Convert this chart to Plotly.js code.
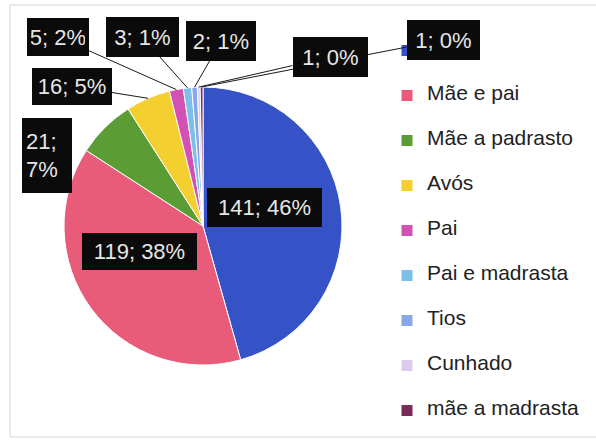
<!DOCTYPE html>
<html><head><meta charset="utf-8">
<script src="https://cdn.plot.ly/plotly-3.0.1.min.js"></script>
<style>html,body{margin:0;padding:0;background:#fff}</style>
</head><body>
<div id="chart" style="width:596px;height:442px"></div>
<script>
// ---- data ----
const categories = ["Mãe", "Mãe e pai", "Mãe a padrasto", "Avós", "Pai", "Pai e madrasta", "Tios", "Cunhado", "mãe a madrasta"];
const values = [141, 119, 21, 16, 5, 3, 2, 1, 1];
const percentLabels = [46, 38, 7, 5, 2, 1, 1, 0, 0];
const colors = ["#3553c6", "#e85c7a", "#5c9c34", "#f3cf30", "#d451b4", "#7cc0ea", "#86a8e8", "#dccbee", "#7a2a58"];

// ---- layout constants ----
const W = 596, H = 442;
const CX = 203, CY = 226, R = 139;
const FONT = "Liberation Sans, Arial, sans-serif";

// label boxes: pixel centre, outer size, leader line, wrapping
const labelLayout = [
  {x: 264, y: 207, w: 115, h: 39, arrow: false},
  {x: 139, y: 251, w: 115, h: 37, arrow: false},
  {x: 47,  y: 155, w: 50,  h: 75, arrow: false, wrap: true},
  {x: 72,  y: 86,  w: 80,  h: 37, arrow: true},
  {x: 58,  y: 37,  w: 62,  h: 38, arrow: true},
  {x: 142, y: 37,  w: 73,  h: 40, arrow: true},
  {x: 221, y: 41,  w: 70,  h: 40, arrow: true},
  {x: 330, y: 57,  w: 75,  h: 40, arrow: true},
  {x: 443, y: 40,  w: 73,  h: 40, arrow: true}
];
const drawOrder = [8, 7, 6, 5, 4, 3, 2, 1, 0];

const total = values.reduce((a, b) => a + b, 0);
let cum = 0;
const midAngles = values.map(v => { const m = (cum + v / 2) / total * 2 * Math.PI; cum += v; return m; });

const PAD = 4;
const annotations = drawOrder.map(i => {
  const L = labelLayout[i];
  let text = values[i] + "; " + percentLabels[i] + "%";
  if (L.wrap) text = values[i] + ";<br>" + percentLabels[i] + "%";
  const base = {
    xref: "paper", yref: "paper", text: text,
    bgcolor: "#0b0b0b", borderpad: PAD, borderwidth: 0,
    width: L.w - 2 * PAD, height: L.h - 2 * PAD,
    font: {family: FONT, size: 22, color: "#e6e6e6"},
    align: L.wrap ? "left" : "center", valign: "middle"
  };
  if (L.arrow) {
    const tx = CX + R * Math.sin(midAngles[i]);
    const ty = CY - R * Math.cos(midAngles[i]);
    return Object.assign(base, {
      x: tx / W, y: 1 - ty / H, showarrow: true, arrowhead: 0, arrowwidth: 1,
      arrowcolor: "#1a1a1a", standoff: 0, ax: L.x - tx, ay: L.y - ty
    });
  }
  return Object.assign(base, {x: L.x / W, y: 1 - L.y / H, showarrow: false, xanchor: "center", yanchor: "middle"});
});

const trace = {
  type: "pie",
  labels: categories.map(c => '<br><span style="font-size:21px">' + c + '</span><br>'),
  values: values,
  sort: false,
  direction: "clockwise",
  rotation: 0,
  textinfo: "none",
  hoverinfo: "none",
  marker: {colors: colors, line: {color: "#ffffff", width: 1}},
  domain: {x: [(CX - R) / W, (CX + R) / W], y: [1 - (CY + R) / H, 1 - (CY - R) / H]}
};

const layout = {
  width: W, height: H,
  margin: {l: 0, r: 0, t: 0, b: 0},
  paper_bgcolor: "#ffffff",
  font: {family: FONT},
  showlegend: true,
  legend: {
    x: 387 / W, xanchor: "left", y: 1 - 23 / H, yanchor: "top",
    font: {family: FONT, size: 10.77, color: "#222222"},
    bgcolor: "rgba(0,0,0,0)", borderwidth: 0
  },
  shapes: [{
    type: "rect", xref: "paper", yref: "paper",
    x0: 10 / W, x1: 1.02, y0: 1 - 437 / H, y1: 1 - 5 / H,
    line: {color: "#d4d4d4", width: 1}, fillcolor: "rgba(0,0,0,0)", layer: "below"
  }],
  annotations: annotations
};

Plotly.newPlot("chart", [trace], layout, {staticPlot: true, displayModeBar: false});
</script>
</body></html>
